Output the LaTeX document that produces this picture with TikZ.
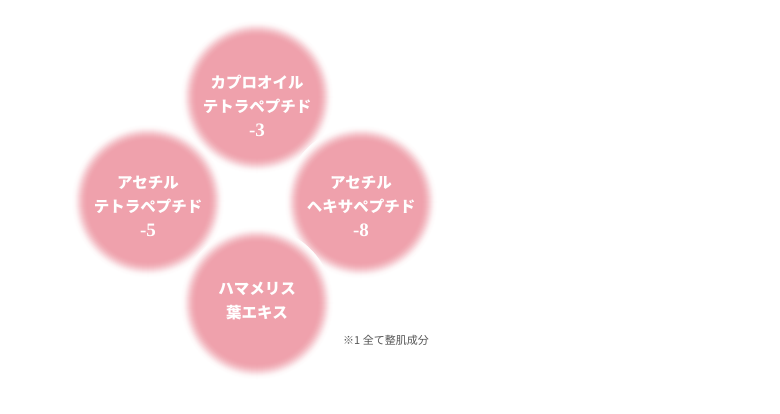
\documentclass[tikz,border=0pt]{standalone}
\usepackage{fontspec}
\newfontfamily\jp{Noto Sans CJK JP}
\newfontfamily\numf{Liberation Serif}
\definecolor{blobpink}{RGB}{239,161,172}
\definecolor{notegray}{RGB}{85,85,85}
\tikzset{
  blobn/.style={circle, minimum size=136pt, inner sep=0pt},
  lbl/.style={align=center, text=white, font=\jp\bfseries\fontsize{15.5}{24}\selectfont, inner sep=0pt},
  note/.style={text=notegray, font=\jp\fontsize{11}{13}\selectfont, inner sep=0pt}
}
\newcommand{\nm}[1]{{\numf\bfseries\fontsize{19}{24}\selectfont #1}}
\newcommand{\softblob}[2]{%
  \node[blobn] (#1) at (#2) {};
  \foreach \r/\p in {76/2,75/4,74/8,73/14,72/22,71/31,70/41,69/51,68/61,67/70,66/78,65/85,64/91,63/95,62/98,61/100}
    \fill[blobpink!\p!white] (#1.center) circle[radius=\r];
}
\begin{document}
\begin{tikzpicture}[x=1pt,y=-1pt]
\useasboundingbox[fill=white] (0,0) rectangle (780,413);
\softblob{top}{257,97}
\softblob{left}{148,201}
\softblob{right}{361,202}
\softblob{bottom}{257,303}
\node[lbl] (topt) at (257,106) {カプロオイル\\テトラペプチド\\\nm{-3}};
\node[lbl] (leftt) at (148,206) {アセチル\\テトラペプチド\\\nm{-5}};
\node[lbl] (rightt) at (361,206) {アセチル\\ヘキサペプチド\\\nm{-8}};
\node[lbl] (bottomt) at (257,301) {ハマメリス\\葉エキス};
\node[note] (notet) at (386,340) {※1 全て整肌成分};
\end{tikzpicture}
\end{document}
